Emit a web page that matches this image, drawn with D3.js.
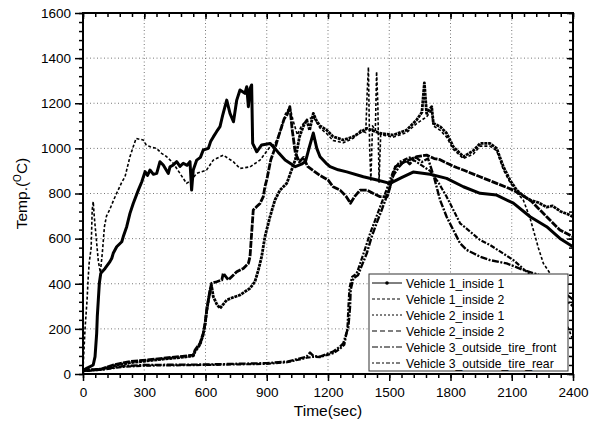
<!DOCTYPE html>
<html><head><meta charset="utf-8">
<script src="https://cdn.jsdelivr.net/npm/d3@7"></script>
<style>body{margin:0;background:#fff}svg{display:block}text{font-family:Arial,"Liberation Sans",sans-serif;fill:#000}</style>
</head><body><svg id="c" width="600" height="431"></svg>
<script>
const seriesNames=["Vehicle 1_inside 1","Vehicle 1_inside 2","Vehicle 2_inside 1","Vehicle 2_inside 2","Vehicle 3_outside_tire_front","Vehicle 3_outside_tire_rear"];
const xTicks=[0,300,600,900,1200,1500,1800,2100,2400];
const yTicks=[0,200,400,600,800,1000,1200,1400,1600];
const v1in1=[[0,15],[18,25],[50,40],[59,77],[67,180],[70,254],[75,328],[80,402],[87,446],[108,468],[132,498],[141,513],[148,535],[165,564],[190,586],[197,608],[214,653],[230,712],[246,756],[271,815],[288,852],[304,897],[316,880],[328,904],[345,885],[361,889],[377,941],[393,926],[418,889],[426,918],[440,925],[459,941],[475,920],[491,934],[510,925],[524,941],[532,815],[540,904],[557,948],[575,960],[589,993],[614,1000],[625,1030],[639,1052],[655,1075],[671,1096],[685,1150],[704,1214],[720,1155],[737,1118],[753,1214],[769,1259],[793,1244],[802,1273],[810,1185],[818,1265],[826,1281],[831,1022],[851,985],[875,1015],[916,1022],[940,1000],[960,978],[990,948],[1040,919],[1070,930],[1090,942],[1110,1010],[1128,1068],[1145,1000],[1161,963],[1190,935],[1210,919],[1250,905],[1292,896],[1373,874],[1440,860],[1504,845],[1560,870],[1617,895],[1700,885],[1781,867],[1863,830],[1945,801],[2026,793],[2108,757],[2190,697],[2271,653],[2336,601],[2400,564]];
const v1in2=[[0,20],[10,200],[20,330],[25,420],[30,490],[40,560],[45,727],[50,764],[55,700],[65,600],[75,500],[85,450],[95,540],[105,653],[115,700],[130,727],[150,771],[165,801],[190,850],[206,875],[230,963],[246,1007],[260,1044],[295,1037],[310,1015],[330,1007],[360,1000],[385,978],[410,963],[442,934],[475,889],[507,845],[532,860],[556,889],[605,904],[638,948],[687,970],[736,941],[769,911],[818,918],[867,948],[916,1007],[940,1020],[970,1080],[990,1150],[1013,1185],[1030,1120],[1050,1060],[1070,1100],[1096,1126],[1128,1140],[1161,1090],[1194,1065],[1225,1035],[1275,1025],[1324,1045],[1360,1080],[1385,1070],[1392,1250],[1398,1360],[1404,1000],[1410,860],[1418,1100],[1432,1080],[1438,1340],[1444,1200],[1450,850],[1458,1060],[1520,1050],[1585,1070],[1634,1110],[1683,1140],[1708,1170],[1716,1100],[1750,1080],[1781,1050],[1814,995],[1863,955],[1912,975],[1945,1010],[1993,1010],[2026,990],[2059,905],[2091,850],[2124,805],[2157,770],[2190,690],[2230,560],[2255,490],[2287,447],[2330,330],[2370,220],[2400,150]];
const v2in1=[[0,15],[90,20],[148,36],[230,50],[312,58],[393,66],[475,73],[540,80],[549,100],[573,130],[589,175],[598,220],[606,280],[614,325],[622,365],[630,390],[638,343],[655,310],[671,291],[704,328],[737,340],[769,350],[818,380],[842,409],[859,461],[875,520],[891,608],[916,697],[940,771],[965,815],[998,845],[1020,900],[1040,950],[1060,1050],[1080,1100],[1096,1126],[1110,1080],[1128,1155],[1145,1120],[1161,1100],[1194,1081],[1225,1052],[1275,1037],[1324,1052],[1390,1089],[1455,1067],[1520,1059],[1585,1081],[1634,1126],[1660,1160],[1672,1290],[1683,1155],[1708,1185],[1716,1111],[1750,1096],[1781,1067],[1814,1007],[1863,963],[1912,990],[1945,1022],[1993,1022],[2026,1000],[2059,919],[2091,860],[2124,815],[2157,790],[2190,770],[2230,760],[2270,740],[2300,745],[2340,720],[2370,710],[2400,697]];
const v2in2=[[0,15],[90,22],[148,40],[230,55],[312,62],[393,70],[475,77],[540,84],[549,106],[573,136],[589,180],[598,225],[606,284],[614,328],[622,372],[630,402],[655,409],[680,417],[687,446],[712,417],[753,453],[785,468],[810,490],[818,520],[826,624],[834,727],[851,742],[867,756],[883,786],[891,830],[900,860],[920,950],[940,1000],[960,1060],[985,1130],[1000,1150],[1013,1185],[1025,1080],[1040,980],[1060,940],[1080,960],[1100,920],[1130,900],[1160,880],[1200,860],[1225,830],[1259,815],[1290,786],[1310,757],[1330,786],[1357,815],[1390,815],[1420,801],[1455,786],[1490,786],[1510,850],[1530,919],[1560,934],[1600,950],[1634,963],[1683,970],[1720,955],[1749,950],[1781,935],[1830,915],[1863,904],[1945,874],[2026,845],[2108,815],[2190,771],[2271,697],[2336,638],[2400,608]];
const v3front=[[0,15],[100,22],[200,35],[300,40],[600,42],[900,48],[1000,55],[1063,69],[1096,77],[1112,95],[1128,80],[1161,77],[1225,99],[1259,121],[1275,136],[1300,210],[1308,298],[1311,372],[1324,424],[1348,439],[1357,461],[1390,535],[1414,608],[1438,668],[1463,727],[1487,786],[1504,830],[1520,880],[1550,920],[1580,950],[1600,930],[1630,960],[1660,940],[1690,955],[1720,870],[1749,771],[1781,697],[1814,638],[1847,579],[1879,550],[1912,535],[1945,520],[1993,505],[2075,490],[2157,461],[2230,440],[2300,400],[2400,330]];
const v3rear=[[0,12],[100,20],[200,32],[300,37],[600,40],[900,45],[1000,52],[1063,65],[1096,72],[1128,76],[1161,75],[1225,92],[1259,112],[1280,130],[1295,200],[1300,300],[1305,380],[1318,430],[1340,445],[1350,470],[1380,550],[1405,620],[1430,680],[1455,740],[1480,800],[1500,850],[1520,900],[1550,940],[1600,960],[1650,930],[1700,900],[1740,850],[1781,786],[1847,668],[1945,594],[1993,572],[2108,505],[2173,453],[2230,420],[2300,380],[2400,300]];
const seriesData=[v1in1,v1in2,v2in1,v2in2,v3front,v3rear];

const styles=[
 {w:3,dash:null,lw:1},
 {w:1.6,dash:"3,2",lw:1},
 {w:2.8,dash:"3,0.8",lw:1},
 {w:2.8,dash:"7,1.2",lw:1.2},
 {w:2.4,dash:"7,1.5,2,1.5",lw:1},
 {w:2.2,dash:"2,1.5,5,1.5",lw:1}
];
const legendDash=[null,"3,2","2,2","5,3","6,2,2,2","2,2,4,2"];

const W=600,H=431,m={l:83,t:13,r:27,b:57};
const svg=d3.select("#c");
const x=d3.scaleLinear().domain([0,2400]).range([m.l,W-m.r]);
const y=d3.scaleLinear().domain([0,1600]).range([H-m.b,m.t]);
const x0=m.l,x1=W-m.r,y0=H-m.b,y1=m.t;

svg.append("defs").append("clipPath").attr("id","clip").append("rect")
 .attr("x",x0).attr("y",y1).attr("width",x1-x0).attr("height",y0-y1);

// grid
const g=svg.append("g");
g.selectAll(".gx").data(xTicks.slice(1,-1)).join("line")
 .attr("x1",d=>x(d)).attr("x2",d=>x(d)).attr("y1",y0).attr("y2",y1)
 .attr("stroke","#777").attr("stroke-width",1).attr("stroke-dasharray","1,2.5");
g.selectAll(".gy").data(yTicks.slice(1,-1)).join("line")
 .attr("y1",d=>y(d)).attr("y2",d=>y(d)).attr("x1",x0).attr("x2",x1)
 .attr("stroke","#777").attr("stroke-width",1).attr("stroke-dasharray","1,2.5");

// series
const line=d3.line().x(d=>x(d[0])).y(d=>y(d[1]));
const pg=svg.append("g").attr("clip-path","url(#clip)");
seriesData.forEach((s,i)=>{
 pg.append("path").attr("d",line(s)).attr("fill","none").attr("stroke","#000")
  .attr("stroke-width",styles[i].w).attr("stroke-linejoin","round")
  .attr("stroke-dasharray",styles[i].dash);
});

// axes
const xMinor=d3.range(0,2401,60), yMinor=d3.range(0,1601,40);
function axisStyle(sel){sel.select(".domain").remove();sel.selectAll("line").attr("stroke","#000").attr("stroke-width",1.5);}
svg.append("g").attr("transform",`translate(0,${y0})`).call(d3.axisBottom(x).tickValues(xMinor).tickSize(4).tickFormat("")).call(axisStyle);
svg.append("g").attr("transform",`translate(0,${y0})`).call(d3.axisBottom(x).tickValues(xTicks).tickSize(7).tickPadding(6).tickFormat(d3.format("d"))).call(axisStyle)
 .selectAll("text").attr("font-size",13.5).attr("font-family","Arial, Liberation Sans, sans-serif");
svg.append("g").attr("transform",`translate(0,${y1})`).call(d3.axisBottom(x).tickValues(xMinor).tickSize(4).tickFormat("")).call(axisStyle);
svg.append("g").attr("transform",`translate(0,${y1})`).call(d3.axisBottom(x).tickValues(xTicks).tickSize(6).tickFormat("")).call(axisStyle);
svg.append("g").attr("transform",`translate(${x0},0)`).call(d3.axisLeft(y).tickValues(yMinor).tickSize(4).tickFormat("")).call(axisStyle);
svg.append("g").attr("transform",`translate(${x0},0)`).call(d3.axisLeft(y).tickValues(yTicks).tickSize(8).tickPadding(4).tickFormat(d3.format("d"))).call(axisStyle)
 .selectAll("text").attr("font-size",13.5).attr("font-family","Arial, Liberation Sans, sans-serif");
svg.append("g").attr("transform",`translate(${x1},0)`).call(d3.axisRight(y).tickValues(yMinor).tickSize(-4).tickFormat("")).call(axisStyle);
svg.append("g").attr("transform",`translate(${x1},0)`).call(d3.axisRight(y).tickValues(yTicks).tickSize(-6).tickFormat("")).call(axisStyle);

// frame
svg.append("rect").attr("x",x0).attr("y",y1).attr("width",x1-x0).attr("height",y0-y1)
 .attr("fill","none").attr("stroke","#000").attr("stroke-width",2);

// legend
const lg=svg.append("g");
const lx=369,ly=274,lw=199,lh=97;
lg.append("rect").attr("x",lx).attr("y",ly).attr("width",lw).attr("height",lh)
 .attr("fill","#fff").attr("stroke","#333").attr("stroke-width",1);
seriesNames.forEach((n,i)=>{
 const yy=ly+9+i*16;
 lg.append("line").attr("x1",lx+3).attr("x2",lx+33).attr("y1",yy).attr("y2",yy)
  .attr("stroke","#000").attr("stroke-width",styles[i].lw).attr("stroke-dasharray",legendDash[i]);
 if(i===0) lg.append("circle").attr("cx",lx+18).attr("cy",yy).attr("r",1.8).attr("fill","#000");
 lg.append("text").attr("x",lx+37).attr("y",yy+4.5).attr("font-size",12.2).text(n);
});

// axis titles
svg.append("text").attr("x",(x0+x1)/2).attr("y",416).attr("text-anchor","middle").attr("font-size",15.5).text("Time(sec)");
const yl=svg.append("text").attr("transform",`translate(27,${(y0+y1)/2}) rotate(-90)`).attr("text-anchor","middle").attr("font-size",15.5);
yl.append("tspan").text("Temp.(");
yl.append("tspan").attr("font-size",10).attr("dy",-6).text("O");
yl.append("tspan").attr("dy",6).text("C)");
</script></body></html>
